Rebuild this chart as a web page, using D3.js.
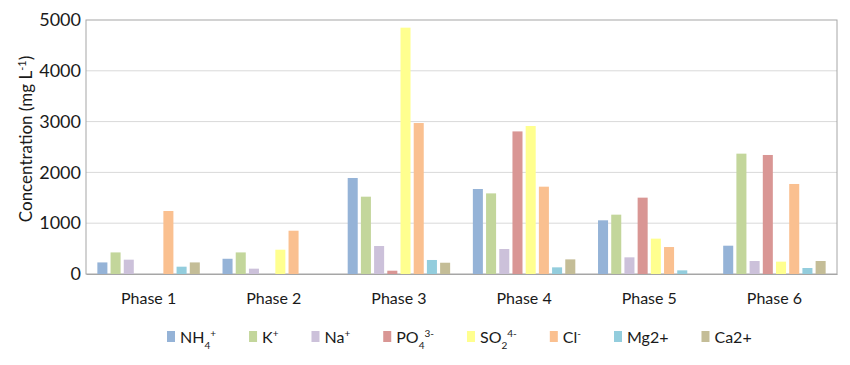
<!DOCTYPE html>
<html>
<head>
<meta charset="utf-8">
<script src="https://cdn.jsdelivr.net/npm/d3@7"></script>
<style>
  body { margin: 0; background: #fff; }
  text { font-family: Lato, "Open Sans", sans-serif; fill: #1a1a1a; }
</style>
</head>
<body>
<div id="chart"></div>
<script>
const phases = ["Phase 1", "Phase 2", "Phase 3", "Phase 4", "Phase 5", "Phase 6"];
const ions = ["NH4", "K", "Na", "PO4", "SO4", "Cl", "Mg", "Ca"];

// concentration per phase, mg/L
const nh4 = [228, 300, 1890, 1673, 1057, 557];
const k   = [425, 425, 1522, 1587, 1168, 2369];
const na  = [282, 105, 551, 492, 328, 256];
const po4 = [0, 0, 65, 2807, 1503, 2343];
const so4 = [0, 478, 4849, 2913, 696, 243];
const cl  = [1240, 852, 2972, 1719, 531, 1772];
const mg  = [144, 0, 276, 131, 72, 118];
const ca  = [228, 0, 222, 288, 0, 256];

const yTicks = [0, 1000, 2000, 3000, 4000, 5000];

const colors = ["#95b3d7", "#c3d69b", "#ccc1da", "#d99694", "#ffff8f", "#fac090", "#93cddd", "#c4bd97"];

// legend labels: [text, 0 normal / -1 sub / 1 sup]
const legendLabels = [
  [["NH", 0], ["4", -1], ["+", 1]],
  [["K", 0], ["+", 1]],
  [["Na", 0], ["+", 1]],
  [["PO", 0], ["4", -1], ["3-", 1]],
  [["SO", 0], ["2", -1], ["4-", 1]],
  [["Cl", 0], ["-", 1]],
  [["Mg2+", 0]],
  [["Ca2+", 0]]
];

const series = [nh4, k, na, po4, so4, cl, mg, ca];

const margin = { top: 20, right: 13, bottom: 91, left: 86 },
  width = 850 - margin.left - margin.right,
  height = 365 - margin.top - margin.bottom;

const svg = d3.select("#chart").append("svg")
  .attr("width", 850)
  .attr("height", 365)
  .append("g")
  .attr("transform", "translate(" + margin.left + "," + margin.top + ")");

const x0 = d3.scaleBand().domain(phases).range([0, width]);
const x1 = d3.scaleBand().domain(ions).range([0, x0.bandwidth()])
  .paddingInner(0.24).paddingOuter(0.86);
const y = d3.scaleLinear().domain([0, 5000]).range([height, 0]);

// grid
svg.append("g")
  .selectAll("line")
  .data(yTicks.slice(1, -1))
  .enter().append("line")
  .attr("x1", 0).attr("x2", width)
  .attr("y1", d => y(d)).attr("y2", d => y(d))
  .attr("stroke", "#d9d9d9").attr("stroke-width", 1);

// plot border
svg.append("rect")
  .attr("x", 0).attr("y", 0)
  .attr("width", width).attr("height", height)
  .attr("fill", "none").attr("stroke", "#a6a6a6");

// bars
phases.forEach((p, i) => {
  const g = svg.append("g").attr("transform", "translate(" + x0(p) + ",0)");
  g.selectAll("rect")
    .data(ions.map((ion, j) => ({ ion: ion, v: series[j][i], c: colors[j] })))
    .enter().append("rect")
    .attr("x", d => x1(d.ion))
    .attr("width", x1.bandwidth())
    .attr("y", d => y(d.v))
    .attr("height", d => height - y(d.v))
    .attr("fill", d => d.c);
});

// axes
const yAxis = d3.axisLeft(y).tickValues(yTicks).tickFormat(d3.format("d"))
  .tickSize(0).tickPadding(5);
svg.append("g")
  .call(yAxis)
  .call(g => g.select(".domain").remove())
  .selectAll("text")
  .style("font-size", "18px")
  .style("font-family", "Lato, sans-serif")
  .attr("fill", "#1a1a1a");

const xAxis = d3.axisBottom(x0).tickSize(0).tickPadding(19);
svg.append("g")
  .attr("transform", "translate(0," + height + ")")
  .call(xAxis)
  .call(g => g.select(".domain").attr("stroke", "#a6a6a6"))
  .selectAll("text")
  .style("font-size", "16px")
  .style("font-family", "Lato, sans-serif")
  .attr("fill", "#1a1a1a");

// y label
const yl = svg.append("text")
  .attr("transform", "rotate(-90)")
  .attr("x", -height / 2 + 8)
  .attr("y", -margin.left + 32)
  .style("text-anchor", "middle")
  .style("font-size", "17px");
yl.append("tspan").text("Concentration (mg L");
yl.append("tspan").attr("baseline-shift", "super").style("font-size", "11px").text("-1");
yl.append("tspan").text(")");

// legend
const legend = d3.select("svg").append("g").attr("transform", "translate(0,337)");
let lx = 167;
legendLabels.forEach((parts, i) => {
  const item = legend.append("g").attr("transform", "translate(" + lx + ",0)");
  item.append("rect")
    .attr("x", 0).attr("y", -6)
    .attr("width", 8).attr("height", 11)
    .attr("fill", colors[i]);
  const t = item.append("text")
    .attr("x", 13).attr("y", 6)
    .style("font-size", "16px");
  parts.forEach(pt => {
    const ts = t.append("tspan").text(pt[0]);
    if (pt[1] !== 0) {
      ts.attr("baseline-shift", pt[1] > 0 ? "super" : "sub").style("font-size", "10px");
    }
  });
  lx += 13 + t.node().getComputedTextLength() + 33;
});
</script>
</body>
</html>
